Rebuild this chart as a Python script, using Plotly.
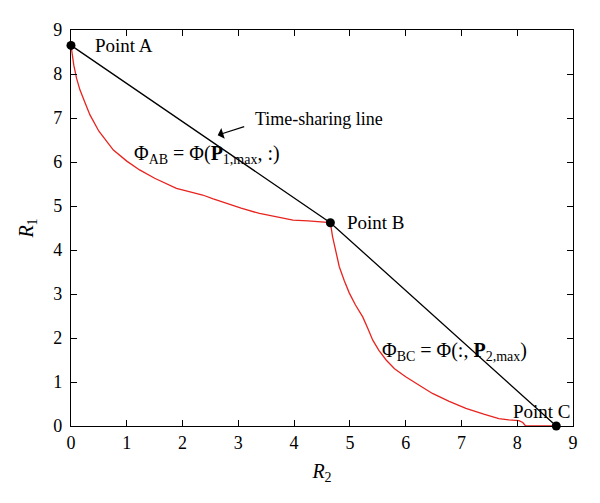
import plotly.graph_objects as go

# Time-sharing line and corner points
pt_x = [0.0, 4.65, 8.70]
pt_y = [8.65, 4.62, 0.0]

# Red boundary curve (Phi_AB then Phi_BC)
curve_x = [0.0, 0.05, 0.10, 0.16, 0.25, 0.34, 0.50, 0.76, 1.00, 1.23, 1.50, 1.89, 2.10, 2.36, 2.55, 2.78, 3.05, 3.38, 3.70, 3.98, 4.25, 4.51, 4.65,
           4.69, 4.75, 4.81, 4.90, 4.99, 5.10, 5.23, 5.32, 5.41, 5.52, 5.65, 5.80, 6.00, 6.25, 6.48, 6.78, 7.08, 7.40, 7.67, 7.85, 8.03, 8.10, 8.15, 8.40, 8.70]
curve_y = [8.65, 8.20, 7.90, 7.64, 7.35, 7.07, 6.70, 6.27, 6.02, 5.82, 5.63, 5.40, 5.33, 5.25, 5.16, 5.06, 4.95, 4.83, 4.75, 4.68, 4.66, 4.64, 4.62,
           4.30, 3.95, 3.62, 3.30, 3.02, 2.75, 2.48, 2.22, 1.95, 1.72, 1.50, 1.30, 1.12, 0.92, 0.74, 0.56, 0.40, 0.27, 0.17, 0.14, 0.12, 0.08, 0.0, 0.0, 0.0]

x_ticks = [0, 1, 2, 3, 4, 5, 6, 7, 8, 9]
y_ticks = [0, 1, 2, 3, 4, 5, 6, 7, 8, 9]

FONT = "Liberation Serif"

fig = go.Figure()
fig.add_trace(go.Scatter(x=curve_x, y=curve_y, mode="lines",
                         line=dict(color="#e8231f", width=1.3), showlegend=False))
fig.add_trace(go.Scatter(x=pt_x, y=pt_y, mode="lines+markers",
                         line=dict(color="black", width=1.3),
                         marker=dict(color="black", size=9), showlegend=False,
                         cliponaxis=False))

ann = [
    dict(x=0.0, y=8.65, text="Point A", xanchor="left", yanchor="middle", xshift=22, size=19),
    dict(x=4.65, y=4.62, text="Point B", xanchor="left", yanchor="middle", xshift=15, size=19),
    dict(x=9.0, y=0.34, text="Point C", xanchor="right", yanchor="middle", size=19),
    dict(x=2.44, y=6.16, text="Φ<sub>AB</sub> = Φ(<b>P</b><sub>1,max</sub>, :)", xanchor="center", yanchor="middle", size=20),
    dict(x=6.88, y=1.70, text="Φ<sub>BC</sub> = Φ(:, <b>P</b><sub>2,max</sub>)", xanchor="center", yanchor="middle", size=20),
]
for a in ann:
    s = a.pop("size")
    fig.add_annotation(**a, showarrow=False, font=dict(family=FONT, size=s, color="black"))

fig.add_annotation(x=2.63, y=6.61, ax=28, ay=-9, axref="pixel", ayref="pixel",
                   text="", showarrow=True, arrowhead=1, arrowsize=1.7, arrowwidth=1.1, arrowcolor="black")
fig.add_annotation(x=3.27, y=6.98, text="Time-sharing line", showarrow=False, xanchor="left", yanchor="middle",
                   font=dict(family=FONT, size=18, color="black"))

axis_common = dict(showgrid=False, zeroline=False, showline=True, linecolor="black", linewidth=1.4,
                   mirror="ticks", ticks="inside", ticklen=6, tickcolor="black", tickwidth=1.2,
                   tickfont=dict(family=FONT, size=18, color="black"))

fig.update_xaxes(range=[0, 9], tickvals=x_ticks, ticktext=[str(v) for v in x_ticks],
                 title=dict(text="<i>R</i><sub>2</sub>", font=dict(family=FONT, size=20, color="black"), standoff=12),
                 **axis_common)
fig.update_yaxes(range=[0, 9], tickvals=y_ticks, ticktext=[str(v) for v in y_ticks],
                 ticklabelstandoff=4,
                 title=dict(text="<i>R</i><sub>1</sub>", font=dict(family=FONT, size=20, color="black"), standoff=14),
                 **axis_common)

fig.update_layout(width=592, height=495, margin=dict(l=63, r=27, t=22, b=77, autoexpand=False),
                  plot_bgcolor="white", paper_bgcolor="white")

fig.write_html("out.html")
